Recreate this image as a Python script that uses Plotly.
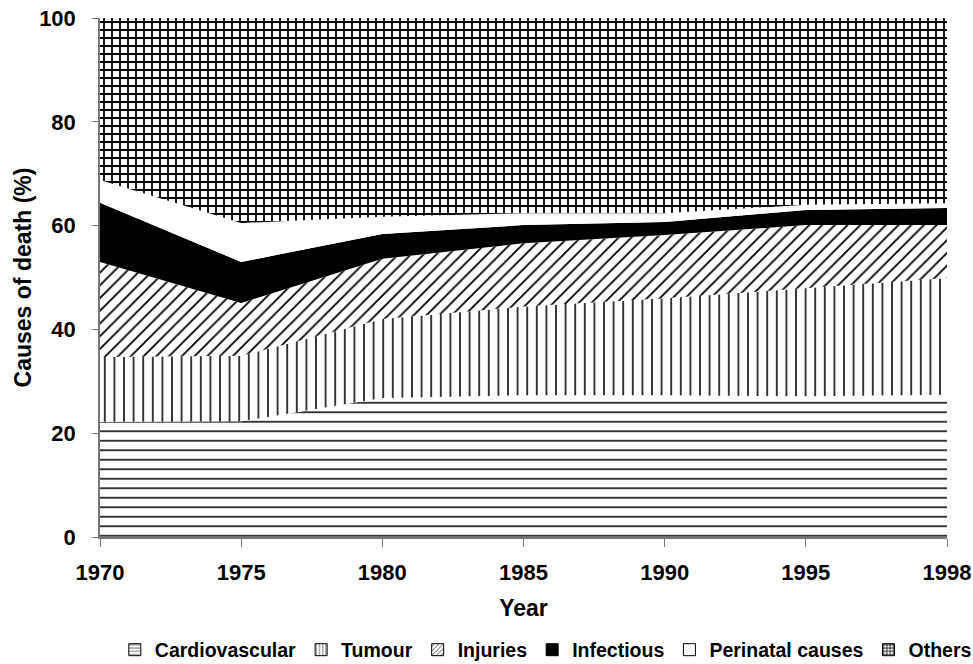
import plotly.graph_objects as go

years = ["1970", "1975", "1980", "1985", "1990", "1995", "1998"]
cardiovascular = [22.2, 22.3, 26.8, 27.3, 27.3, 27.1, 27.4]
tumour = [12.5, 12.6, 15.2, 17.1, 18.7, 20.9, 22.5]
injuries = [18.3, 10.2, 11.6, 12.2, 12.2, 12.1, 10.2]
infectious = [11.4, 7.9, 4.8, 3.5, 2.5, 2.9, 3.3]
perinatal = [4.4, 7.5, 3.3, 2.3, 1.7, 1.0, 0.9]
others = [31.2, 39.5, 38.3, 37.6, 37.6, 36.0, 35.7]

FONT = "Arial, Liberation Sans, sans-serif"
W, H = 973, 664

series = [
    ("Cardiovascular", cardiovascular, dict(shape="-", size=9.5, solidity=0.16), "white"),
    ("Tumour", tumour, dict(shape="|", size=9.6, solidity=0.16), "white"),
    ("Injuries", injuries, dict(shape="/", size=9, solidity=0.2), "white"),
    ("Infectious", infectious, None, "black"),
    ("Perinatal causes", perinatal, None, "white"),
    ("Others", others, dict(shape="+", size=8, solidity=0.4), "white"),
]

fig = go.Figure()
for name, vals, pat, col in series:
    kw = dict(x=years, y=vals, name=name, mode="lines", stackgroup="one",
              line=dict(width=0, color="black"), fillcolor=col, showlegend=False)
    if pat is not None:
        kw["fillpattern"] = dict(fgcolor="black", bgcolor="white", fillmode="replace", **pat)
    fig.add_trace(go.Scatter(**kw))

# legend entries (square swatches with the same patterns)
for name, vals, pat, col in series:
    marker = dict(color=col, line=dict(color="black", width=1))
    if pat is not None:
        p = dict(pat)
        p["size"] = 4
        marker["pattern"] = dict(fgcolor="black", bgcolor="white", fillmode="replace", **p)
    fig.add_trace(go.Bar(x=[None], y=[None], name=name, marker=marker, showlegend=True))

fig.update_layout(
    width=W, height=H,
    margin=dict(l=0, r=0, t=0, b=0, autoexpand=False),
    paper_bgcolor="white", plot_bgcolor="white",
    font=dict(family=FONT, size=22, color="black", weight="bold"),
    showlegend=True,
    legend=dict(orientation="h", xanchor="left", x=0.118, yanchor="middle", y=14 / H,
                font=dict(size=19.5, weight="bold"), itemwidth=30, traceorder="normal",
                bgcolor="rgba(0,0,0,0)"),
    xaxis=dict(type="category", range=[0, 6], domain=[100 / W, 947 / W],
               showgrid=False, showline=True, automargin=False,
               linecolor="#777", linewidth=1.5, ticks="outside", ticklen=8,
               tickcolor="#777", tickfont=dict(size=22, weight="bold"),
               ticklabelstandoff=7,
               title=dict(text="Year", font=dict(size=23, weight="bold"), standoff=16)),
    yaxis=dict(range=[0, 100], tickvals=[0, 20, 40, 60, 80, 100], domain=[127 / H, 646 / H],
               showgrid=False, automargin=False,
               showline=True, linecolor="#777", linewidth=1.5, ticks="outside",
               ticklen=6, tickcolor="#777", tickfont=dict(size=22, weight="bold"),
               ticklabelstandoff=12,
               title=dict(text="Causes of death (%)", font=dict(size=23, weight="bold"), standoff=1)),
)

fig.write_html("out.html", config={"displayModeBar": False},
               post_script="document.body.style.margin='0px';")
